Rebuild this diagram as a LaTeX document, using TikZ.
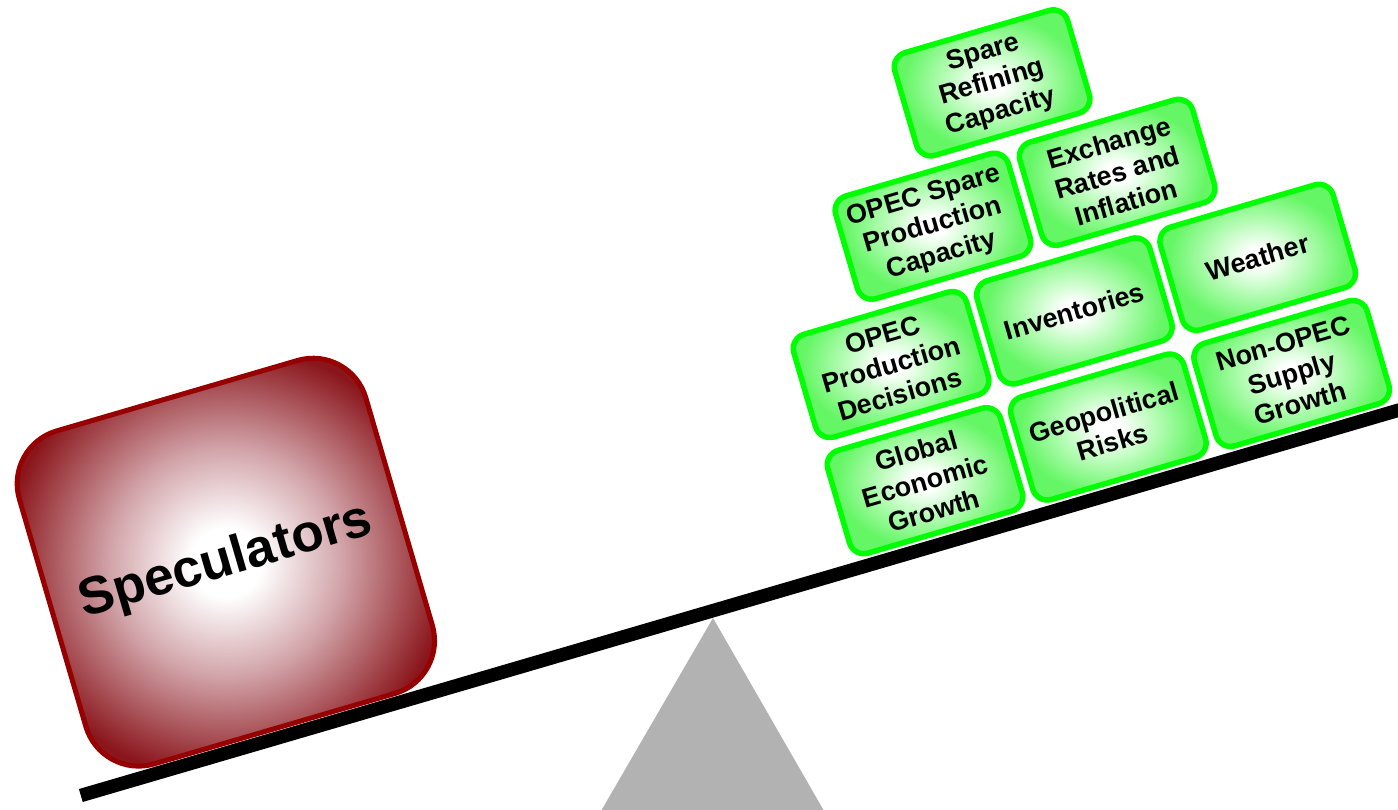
\documentclass[tikz,border=0pt]{standalone}
\usepackage{fontspec}
\setmainfont{Liberation Sans}
\definecolor{gborder}{RGB}{0,255,0}
\definecolor{gout}{RGB}{100,246,100}
\definecolor{gmid}{RGB}{180,252,180}
\definecolor{sborder}{RGB}{150,0,0}
\definecolor{sout}{RGB}{138,22,28}
\definecolor{smid}{RGB}{210,165,170}
\definecolor{fulcrumgray}{RGB}{178,178,178}
\pgfdeclareradialshading{greenglow}{\pgfpoint{0bp}{0bp}}{color(0bp)=(white); color(3bp)=(white); color(12bp)=(gmid); color(22bp)=(gout); color(100bp)=(gout)}
\pgfdeclareradialshading{redglow}{\pgfpoint{0bp}{0bp}}{color(0bp)=(white); color(4bp)=(white); color(13bp)=(smid); color(25bp)=(sout); color(100bp)=(sout)}
\tikzset{
  factor/.style={draw=gborder, line width=5.5pt, rounded corners=15pt,
    minimum width=180pt, minimum height=107pt, shading=greenglow,
    align=center, inner sep=0pt, transform shape,
    font=\bfseries\fontsize{27}{31}\selectfont},
  specbox/.style={draw=sborder, line width=5pt, rounded corners=55pt,
    minimum width=361pt, minimum height=347pt, shading=redglow,
    inner sep=0pt, transform shape,
    font=\bfseries\fontsize{53}{60}\selectfont},
  beam/.style={line width=13.5pt, black},
}
\begin{document}
\begin{tikzpicture}[x=1pt,y=-1pt]
\clip (0,0) rectangle (1398,809);
\fill[white] (0,0) rectangle (1398,809);
\fill[fulcrumgray] (713,618) -- (835,830) -- (590,830) -- cycle;
\begin{scope}[rotate=16.3]
  \coordinate (beamL) at (-145.7,786.3);
  \coordinate (beamR) at (1320,786.3);
  \draw[beam] (beamL) -- (beamR);
  \node[specbox] (spec) at (59,603) {\raisebox{9pt}{Speculators}};
  \node[factor] (global) at (753,721) {Global\\Economic\\Growth};
  \node[factor] (geo) at (944,721) {Geopolitical\\Risks};
  \node[factor] (nonopec) at (1135,721) {Non-OPEC\\Supply\\Growth};
  \node[factor] (opecprod) at (753,600) {OPEC\\Production\\Decisions};
  \node[factor] (inv) at (944,600) {Inventories};
  \node[factor] (weather) at (1135,600) {Weather};
  \node[factor] (opecspare) at (832,479) {OPEC Spare\\Production\\Capacity};
  \node[factor] (exch) at (1024,479) {Exchange\\Rates and\\Inflation};
  \node[factor] (spare) at (929,358) {Spare\\Refining\\Capacity};
\end{scope}
\end{tikzpicture}
\end{document}
